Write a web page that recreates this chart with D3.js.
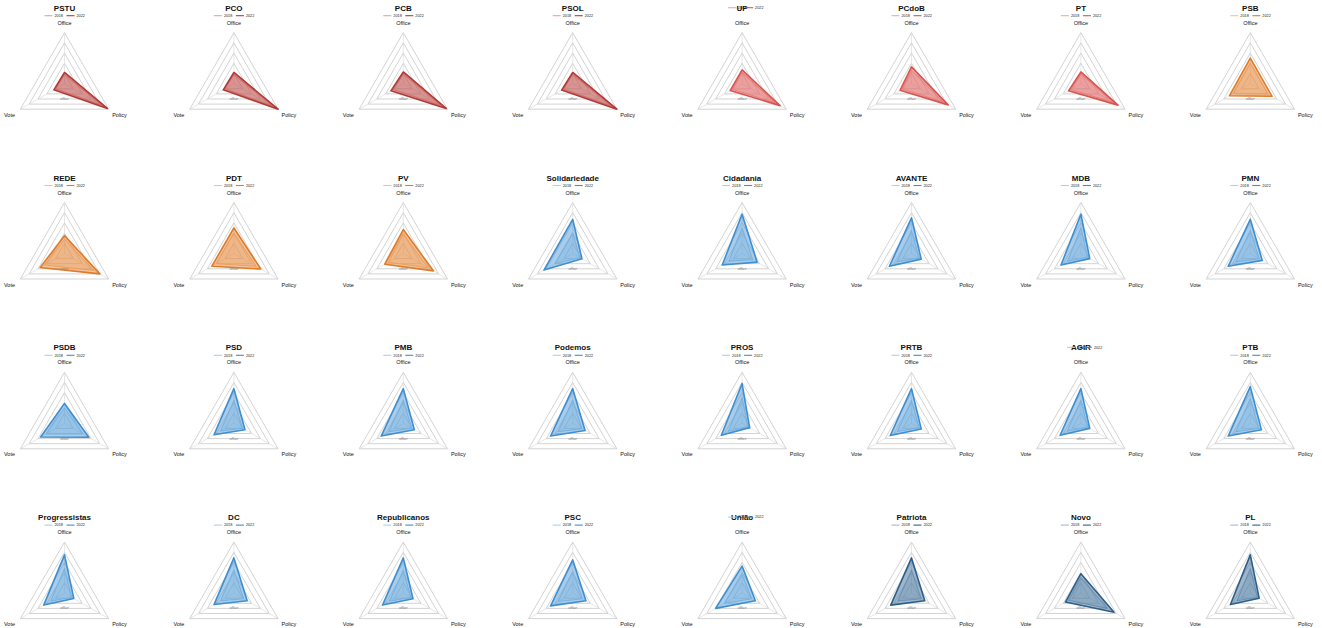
<!DOCTYPE html>
<html><head><meta charset="utf-8">
<script src="https://cdn.jsdelivr.net/npm/d3@7"></script>
<style>body{margin:0;background:#fff}svg{display:block}text{font-family:"Liberation Sans",Arial,sans-serif}</style>
</head><body><svg id="c" width="1322" height="628"></svg>
<script>
const parties = ["PSTU","PCO","PCB","PSOL","UP","PCdoB","PT","PSB",
  "REDE","PDT","PV","Solidariedade","Cidadania","AVANTE","MDB","PMN",
  "PSDB","PSD","PMB","Podemos","PROS","PRTB","AGIR","PTB",
  "Progressistas","DC","Republicanos","PSC","União","Patriota","Novo","PL"];
const groups = ["r1","r1","r1","r1","r2","r2","r2","o",
  "o","o","o","b","b","b","b","b",
  "b","b","b","b","b","b","b","b",
  "b","b","b","b","b","d","d","d"];
const axes = ["Office","Policy","Vote"];
const office2022 = [0.22,0.22,0.23,0.22,0.27,0.33,0.23,0.50, 0.35,0.50,0.47,0.67,0.77,0.70,0.77,0.67, 0.39,0.68,0.68,0.68,0.78,0.68,0.68,0.72, 0.75,0.69,0.69,0.65,0.53,0.69,0.38,0.75];
const policy2022 = [0.97,1.00,0.97,1.00,0.86,0.83,0.84,0.49, 0.80,0.61,0.68,0.21,0.34,0.22,0.20,0.27, 0.55,0.25,0.25,0.28,0.17,0.22,0.20,0.25, 0.21,0.30,0.22,0.30,0.30,0.30,0.75,0.20];
const vote2022   = [0.24,0.24,0.28,0.25,0.27,0.26,0.28,0.47, 0.55,0.50,0.42,0.65,0.45,0.50,0.45,0.50, 0.54,0.45,0.50,0.50,0.47,0.48,0.47,0.50, 0.47,0.45,0.47,0.50,0.60,0.47,0.35,0.45];
const office2018 = [0.18,0.18,0.19,0.18,0.22,0.26,0.19,0.40, 0.28,0.40,0.38,0.40,0.50,0.45,0.50,0.45, 0.30,0.45,0.45,0.45,0.50,0.45,0.45,0.48, 0.48,0.45,0.45,0.42,0.36,0.45,0.30,0.48];
const policy2018 = [0.85,0.88,0.85,0.88,0.75,0.72,0.74,0.40, 0.66,0.50,0.56,0.16,0.24,0.17,0.15,0.20, 0.42,0.19,0.19,0.21,0.13,0.17,0.15,0.19, 0.16,0.22,0.17,0.22,0.22,0.22,0.60,0.16];
const vote2018   = [0.20,0.20,0.23,0.21,0.22,0.21,0.23,0.38, 0.45,0.40,0.34,0.40,0.30,0.33,0.30,0.33, 0.42,0.30,0.33,0.33,0.31,0.32,0.31,0.33, 0.31,0.30,0.31,0.33,0.40,0.31,0.28,0.30];
const years = ["2018","2022"];
const inlineLegend = ["UP","AGIR","União"];

const palette = {
  r1:{"2018":"#e6a3a0","2022":"#b23a36"},
  r2:{"2018":"#f0aaa6","2022":"#d9534f"},
  o: {"2018":"#f5c08e","2022":"#e07b28"},
  b: {"2018":"#a8d0ef","2022":"#3d8fd1"},
  d: {"2018":"#9dbbd6","2022":"#2d5f8b"}
};

const svg = d3.select("#c");
const R = 51;
const colX = d3.scaleLinear().domain([0,7]).range([64.5, 64.5+169.4*7]);
const rowY = d3.scaleLinear().domain([0,3]).range([83.7, 83.7+169.8*3]);
const r = d3.scaleLinear().domain([0,1]).range([0,R]);
const ang = d3.scalePoint().domain(axes).range([-Math.PI/2, -Math.PI/2 + 2*Math.PI*2/3]);
const pt = (a,v) => [r(v)*Math.cos(ang(a)), r(v)*Math.sin(ang(a))];
const line = d3.line().curve(d3.curveLinearClosed);
const levels = [0.2,0.4,0.6,0.8,1.0];

parties.forEach((p,i) => {
  const g = svg.append("g").attr("transform",`translate(${colX(i%8)},${rowY(Math.floor(i/8))})`);
  const col = palette[groups[i]];
  levels.forEach(l => {
    g.append("path").attr("d", line(axes.map(a=>pt(a,l))))
      .attr("fill","none").attr("stroke","#c8c8c8").attr("stroke-width",0.8);
  });
  axes.forEach(a => {
    const e = pt(a,1);
    g.append("line").attr("x1",0).attr("y1",0).attr("x2",e[0]).attr("y2",e[1])
      .attr("stroke","#d6d6d6").attr("stroke-width",0.6);
  });
  g.append("text").attr("x",0).attr("y",r(0.3)+1).attr("text-anchor","middle")
    .attr("font-size",3.6).attr("font-style","italic").attr("fill","#777").text("office");
  const series = [
    {y:"2018", v:{Office:office2018[i],Policy:policy2018[i],Vote:vote2018[i]}},
    {y:"2022", v:{Office:office2022[i],Policy:policy2022[i],Vote:vote2022[i]}}
  ];
  series.forEach(s => {
    g.append("path").attr("d", line(axes.map(a=>pt(a,s.v[a]))))
      .attr("fill", col[s.y]).attr("fill-opacity", s.y==="2022"?0.45:0.35)
      .attr("stroke", col[s.y]).attr("stroke-width", s.y==="2022"?1.6:1.1)
      .attr("stroke-linejoin","round");
  });
  const lab = {Office:[0,-59],Vote:[-55,33],Policy:[55,33]};
  axes.forEach(a => {
    g.append("text").attr("x",lab[a][0]).attr("y",lab[a][1]).attr("text-anchor","middle")
      .attr("font-size",5.5).attr("fill","#111").text(a);
  });
  g.append("text").attr("x",0).attr("y",-73).attr("text-anchor","middle")
    .attr("font-size",8).attr("font-weight","bold").attr("fill","#111").text(p);
  const inl = inlineLegend.includes(p);
  const ly = inl ? -76 : -68;
  const lx = inl ? [-14, 3] : [-20, 2];
  years.forEach((y,k) => {
    g.append("line").attr("x1",lx[k]).attr("x2",lx[k]+8).attr("y1",ly).attr("y2",ly)
      .attr("stroke",col[y]).attr("stroke-width",1.1);
    g.append("text").attr("x",lx[k]+10).attr("y",ly+1.3).attr("font-size",3.8)
      .attr("fill","#222").text(y);
  });
});
</script></body></html>
